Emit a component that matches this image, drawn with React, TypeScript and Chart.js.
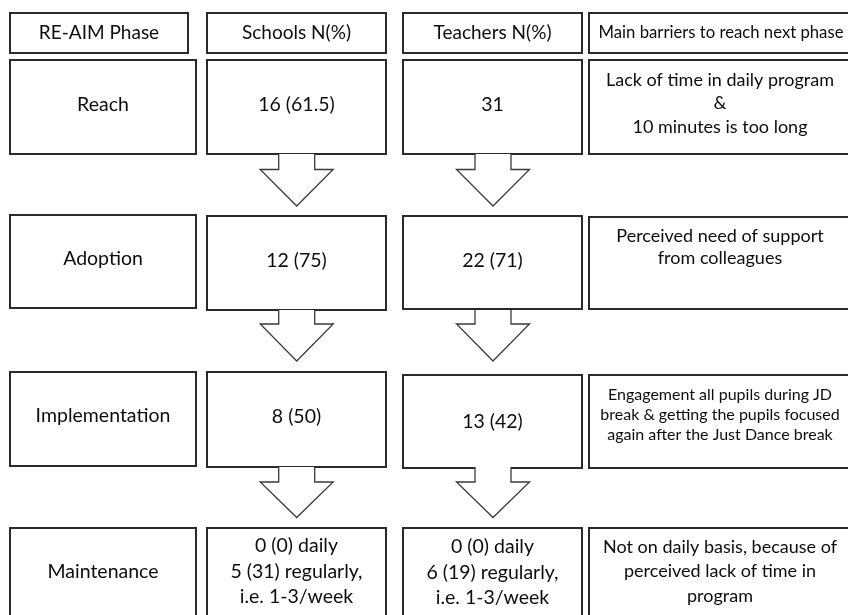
import React, { useEffect, useRef } from "react";
import { Chart, registerables } from "chart.js";

Chart.register(...registerables);

// ---- Data ----
const columnHeaders = ["RE-AIM Phase", "Schools N(%)", "Teachers N(%)", "Main barriers to reach next phase"];
const phases = ["Reach", "Adoption", "Implementation", "Maintenance"];
const schoolsValues = [["16 (61.5)"], ["12 (75)"], ["8 (50)"], ["0 (0) daily", "5 (31) regularly,", "i.e. 1-3/week"]];
const teachersValues = [["31"], ["22 (71)"], ["13 (42)"], ["0 (0) daily", "6 (19) regularly,", "i.e. 1-3/week"]];
const barriers = [
  ["Lack of time in daily program", "&", "10 minutes is too long"],
  ["Perceived need of support", "from colleagues"],
  ["Engagement all pupils during JD", "break & getting the pupils focused", "again after the Just Dance break"],
  ["Not on daily basis, because of", "perceived lack of time in", "program"],
];

// ---- Layout (diagram units on the hidden linear scales) ----
const W = 848;
const H = 615;
const COL_X = [
  [10, 196],
  [207, 386],
  [403, 582],
  [589, 860],
];
const HEADER_X = [
  [10, 188],
  [207, 386],
  [403, 582],
  [589, 860],
];
const HEADER_Y = [13, 53];
// [top, bottom] per row per column
const ROW_Y = [
  [[60, 154], [60, 154], [60, 154], [60, 154]],
  [[215, 308], [216, 310], [216, 309], [217, 309]],
  [[372, 466], [372, 467], [375, 468], [375, 468]],
  [[528, 630], [528, 630], [528, 630], [528, 630]],
];
// text: [firstLineY, lineHeight, fontSize] per row per column
const TEXT_SPEC = [
  [[105, 0, 19.5], [105, 0, 19.5], [105, 0, 19.5], [80, 23.5, 18]],
  [[259, 0, 19.5], [261, 0, 19.5], [261, 0, 19.5], [236, 22, 18]],
  [[416, 0, 19.5], [417, 0, 19.5], [422, 0, 19.5], [395, 20, 16]],
  [[572, 0, 19.5], [546, 25.5, 19.5], [547, 25.5, 19.5], [547, 24.5, 18]],
];
const HEADER_TEXT = [[33, 19], [33, 19], [33, 19], [33, 16.7]];
const ARROW_CX = [296.7, 493];
const ARROWS_Y = [
  [154, 169.5, 206],
  [310, 324, 361],
  [467, 482, 517.5],
];
const SHAFT_HW = 18;
const HEAD_HW = 36.5;

const FONT = "Lato, 'Open Sans', sans-serif";
const TEXT_COLOR = "#0d0d0d";
const LINE_COLOR = "#2a2a2a";

const diagramPlugin = {
  id: "diagram",
  afterDraw(chart: any) {
    const ctx = chart.ctx as CanvasRenderingContext2D;
    const xs = chart.scales.x;
    const ys = chart.scales.y;
    const px = (v: number) => xs.getPixelForValue(v);
    const py = (v: number) => ys.getPixelForValue(v);

    ctx.save();
    const box = (x0: number, x1: number, y0: number, y1: number) => {
      ctx.fillStyle = "#ffffff";
      ctx.strokeStyle = LINE_COLOR;
      ctx.lineWidth = 2;
      const a = px(x0), b = px(x1), c = py(y0), d = py(y1);
      ctx.fillRect(a, c, b - a, d - c);
      ctx.strokeRect(a, c, b - a, d - c);
    };
    const text = (lines: string[], cx: number, y: number, lh: number, size: number) => {
      ctx.fillStyle = TEXT_COLOR;
      ctx.font = `${size}px ${FONT}`;
      ctx.textAlign = "center";
      ctx.textBaseline = "middle";
      lines.forEach((l, i) => ctx.fillText(l, px(cx), py(y + i * lh)));
    };

    // headers
    columnHeaders.forEach((h, c) => {
      const [x0, x1] = HEADER_X[c];
      box(x0, x1, HEADER_Y[0], HEADER_Y[1]);
      const cx = c === 3 ? 721 : (x0 + x1) / 2;
      text([h], cx, HEADER_TEXT[c][0], 0, HEADER_TEXT[c][1]);
    });

    // rows
    phases.forEach((p, r) => {
      const cells = [[p], schoolsValues[r], teachersValues[r], barriers[r]];
      cells.forEach((lines, c) => {
        const [x0, x1] = COL_X[c];
        const [y0, y1] = ROW_Y[r][c];
        box(x0, x1, y0, y1);
        const cx = c === 3 ? 720 : (x0 + x1) / 2;
        const [ty, lh, fs] = TEXT_SPEC[r][c];
        text(lines, cx, ty, lh, fs);
      });
    });

    // arrows
    ARROW_CX.forEach((cx) => {
      ARROWS_Y.forEach(([top, hs, tip]) => {
        ctx.beginPath();
        ctx.moveTo(px(cx - SHAFT_HW), py(top));
        ctx.lineTo(px(cx - SHAFT_HW), py(hs));
        ctx.lineTo(px(cx - HEAD_HW), py(hs));
        ctx.lineTo(px(cx), py(tip));
        ctx.lineTo(px(cx + HEAD_HW), py(hs));
        ctx.lineTo(px(cx + SHAFT_HW), py(hs));
        ctx.lineTo(px(cx + SHAFT_HW), py(top));
        ctx.fillStyle = "#ffffff";
        ctx.fill();
        ctx.strokeStyle = "#3a3a3a";
        ctx.lineWidth = 1.3;
        ctx.stroke();
      });
    });
    ctx.restore();
  },
};

export default function App() {
  const ref = useRef<HTMLCanvasElement | null>(null);
  useEffect(() => {
    document.body.style.margin = "0";
    document.body.style.background = "#ffffff";
    if (!ref.current) return;
    const chart = new Chart(ref.current, {
      type: "scatter",
      data: { datasets: [{ data: [], showLine: false }] },
      options: {
        animation: false,
        responsive: false,
        maintainAspectRatio: false,
        layout: { padding: 0 },
        plugins: { legend: { display: false }, tooltip: { enabled: false } },
        scales: {
          x: { type: "linear", min: 0, max: W, display: false },
          y: { type: "linear", min: 0, max: H, reverse: true, display: false },
        },
      },
      plugins: [diagramPlugin],
    });
    return () => chart.destroy();
  }, []);
  return (
    <div style={{ width: W, height: H, background: "#fff" }}>
      <canvas ref={ref} width={W} height={H} style={{ display: "block" }} />
    </div>
  );
}
